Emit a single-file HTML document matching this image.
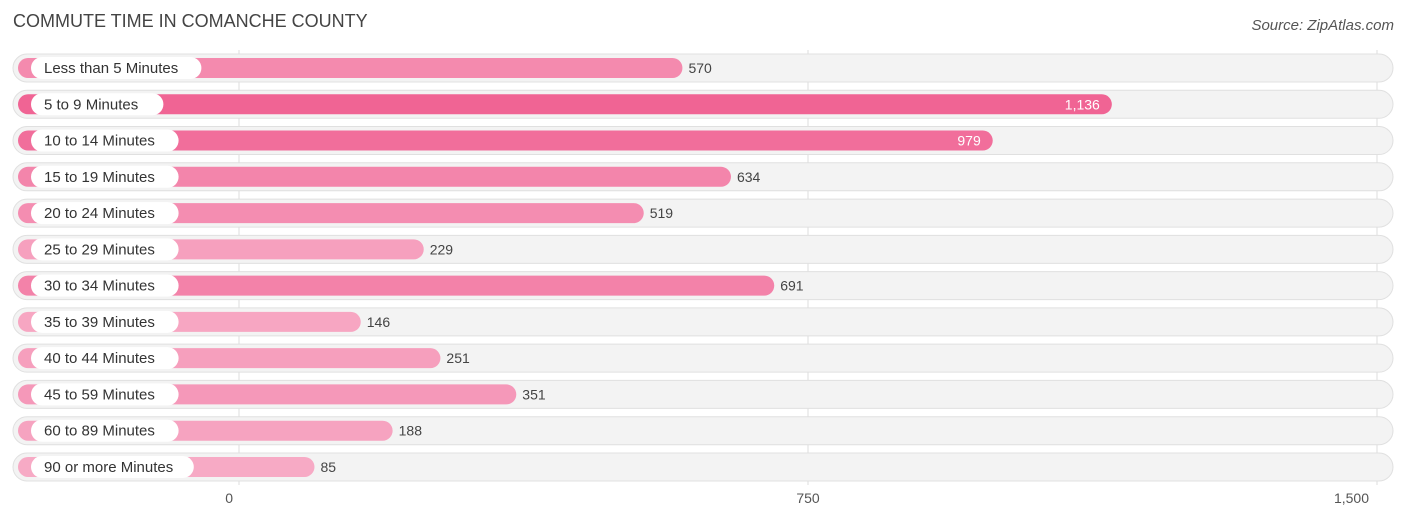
<!DOCTYPE html>
<html><head><meta charset="utf-8"><style>
body{margin:0;background:#fff;font-family:"Liberation Sans",sans-serif;}
svg text{font-family:"Liberation Sans",sans-serif;}
</style></head><body>
<svg id="c" width="1406" height="522">
<text x="13" y="27" font-size="18" fill="#444">COMMUTE TIME IN COMANCHE COUNTY</text>
<text x="1394" y="30" font-size="15" fill="#555" font-style="italic" text-anchor="end">Source: ZipAtlas.com</text>
<g id="grid"></g><g id="rows"></g><g id="ticks"></g>
</svg>
<script>
const categories=["Less than 5 Minutes","5 to 9 Minutes","10 to 14 Minutes","15 to 19 Minutes","20 to 24 Minutes","25 to 29 Minutes","30 to 34 Minutes","35 to 39 Minutes","40 to 44 Minutes","45 to 59 Minutes","60 to 89 Minutes","90 or more Minutes"];
const values=[570,1136,979,634,519,229,691,146,251,351,188,85];
const tickValues=[0,750,1500];
const tickLabels=["0","750","1,500"];
const NS="http://www.w3.org/2000/svg";
const x=v=>239+v*(1138/1500);
const y=i=>68+i*36.27;
const maxV=Math.max(...values);
function mk(t,a,p){const e=document.createElementNS(NS,t);for(const k in a)e.setAttribute(k,a[k]);p.appendChild(e);return e;}
const grid=document.getElementById('grid'),rows=document.getElementById('rows'),ticks=document.getElementById('ticks');
tickValues.forEach((t,i)=>{
 const l=mk('line',{x1:x(t),x2:x(t),y1:50,y2:485,stroke:'#ddd','stroke-width':1},grid);
 
 
 const tx=mk('text',{x:x(t)-10*(i==0?1:0)+(i==0?0:0),y:503,'font-size':14,fill:'#555','text-anchor':i==0?'end':(i==2?'end':'middle')},ticks);
 if(i==0)tx.setAttribute('x',x(t)-6);
 if(i==2)tx.setAttribute('x',x(t)-8);
 tx.textContent=tickLabels[i];
 
 
});
function lerp(a,b,t){return Math.round(a+(b-a)*t);}
values.forEach((v,i)=>{
 const cy=y(i);
 const g=mk('g',{},rows);
 
 
 const bg=mk('rect',{x:13,y:cy-14,width:1380,height:28,rx:14,fill:'#f3f3f3',stroke:'#e0e0e0','stroke-width':1},g);
 
 
 const t=(v-85)/(maxV-85);
 const col=`rgb(${lerp(247,240,t)},${lerp(170,100,t)},${lerp(197,148,t)})`;
 const end=x(v)+11;
 const b=mk('rect',{x:18,y:cy-10,width:end-18,height:20,rx:10,fill:col},g);
 
 
 const lw=categories[i].length*7.6+26;
 const p=mk('rect',{x:31,y:cy-11,width:lw,height:22,rx:11,fill:'#fff'},g);
 
 
 const lt=mk('text',{x:44,y:cy+5,'font-size':15,fill:'#333'},g);
 lt.textContent=categories[i];
 
 
 const inside=v>900;
 const vt=mk('text',{x:inside?end-12:end+6,y:cy+5,'font-size':14,fill:inside?'#fff':'#444','text-anchor':inside?'end':'start'},g);
 vt.textContent=v.toLocaleString('en-US');
 
 
});
</script>
</body></html>
